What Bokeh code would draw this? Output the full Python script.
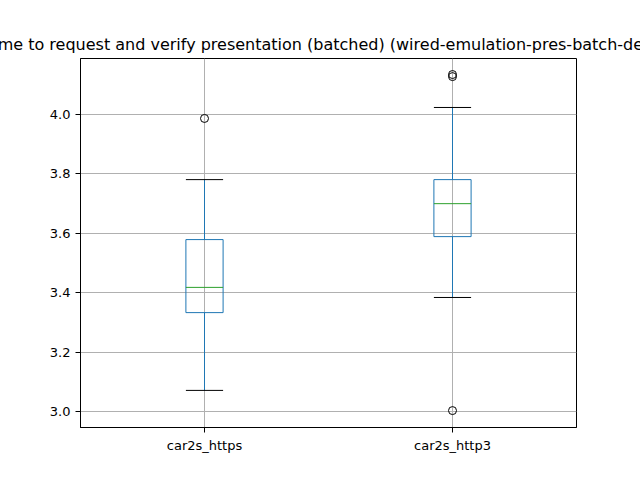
from bokeh.plotting import figure
from bokeh.models import FixedTicker, Range1d, PrintfTickFormatter
from bokeh.embed import file_html
from bokeh.resources import INLINE

categories = ["car2s_https", "car2s_http3"]
positions = [1, 2]
q1 = [3.333, 3.589]
median = [3.418, 3.700]
q3 = [3.579, 3.781]
whisk_lo = [3.071, 3.384]
whisk_hi = [3.781, 4.024]
outlier_x = [1, 2, 2, 2]
outlier_y = [3.987, 4.135, 4.128, 3.003]
half = 0.075

p = figure(width=640, height=480, output_backend="svg", toolbar_location=None,
           title="Time to request and verify presentation (batched) (wired-emulation-pres-batch-delay)",
           x_range=Range1d(0.5, 2.5), y_range=Range1d(2.946, 4.189),
           min_border_left=80, min_border_top=58, min_border_right=64, min_border_bottom=53)
p.title.align = "center"
p.title.text_font = "DejaVu Sans"
p.title.text_font_size = "16px"
p.title.text_font_style = "normal"
p.title.text_color = "black"
p.outline_line_color = "black"
for ax in (p.xaxis[0], p.yaxis[0]):
    ax.major_label_text_font = "DejaVu Sans"
    ax.major_label_text_font_size = "13px"
    ax.major_label_text_color = "black"
    ax.axis_line_color = "black"
    ax.major_tick_line_color = "black"
    ax.minor_tick_line_color = None
    ax.major_tick_out = 5
    ax.major_tick_in = 0
p.xaxis.ticker = FixedTicker(ticks=positions)
p.xaxis.major_label_overrides = {pos: c for pos, c in zip(positions, categories)}
p.yaxis.ticker = FixedTicker(ticks=[3.0, 3.2, 3.4, 3.6, 3.8, 4.0])
p.yaxis.formatter = PrintfTickFormatter(format="%.1f")
p.grid.grid_line_color = "#b0b0b0"
p.grid.grid_line_alpha = 1.0

left = [x - half for x in positions]
right = [x + half for x in positions]
p.segment(positions, whisk_lo, positions, q1, line_color="#1f77b4", line_width=1)
p.segment(positions, q3, positions, whisk_hi, line_color="#1f77b4", line_width=1)
p.quad(left=left, right=right, bottom=q1, top=q3, fill_color=None, line_color="#1f77b4", line_width=1)
p.segment(left, median, right, median, line_color="#2ca02c", line_width=1)
p.segment(left, whisk_lo, right, whisk_lo, line_color="black", line_width=1)
p.segment(left, whisk_hi, right, whisk_hi, line_color="black", line_width=1)
p.scatter(outlier_x, outlier_y, size=8, fill_color=None, line_color="black")

open("out.html", "w").write(file_html(p, INLINE))
